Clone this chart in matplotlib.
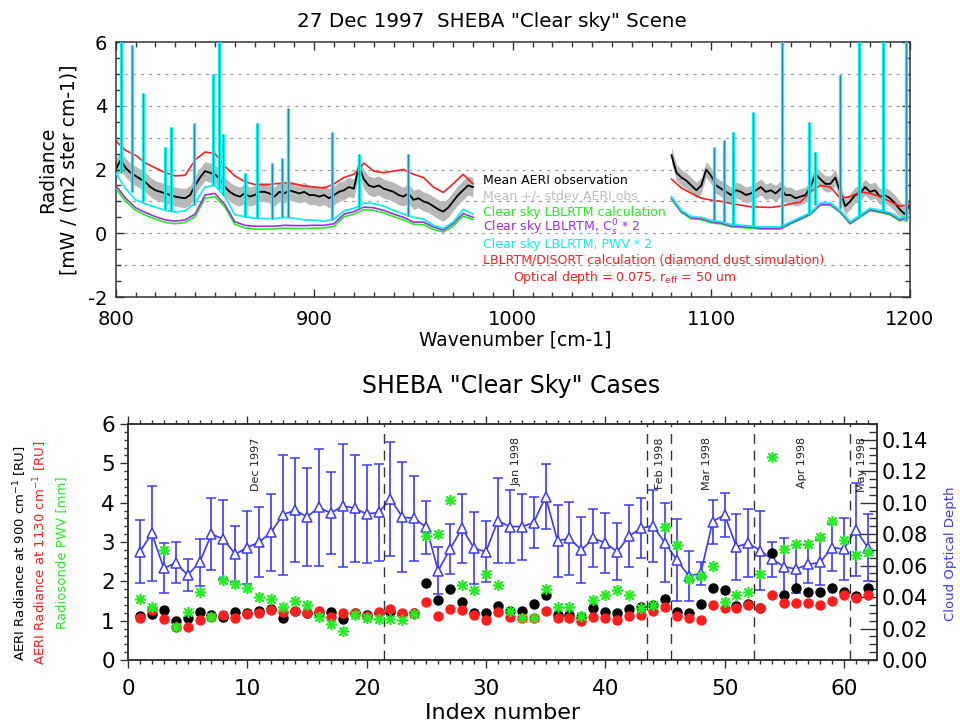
"""Two-panel SHEBA clear-sky figure: spectrum (top) and case summary (bottom)."""

import numpy as np
import matplotlib
matplotlib.use("Agg")
import matplotlib.pyplot as plt
from matplotlib.ticker import MultipleLocator, FormatStrFormatter

plt.rcParams.update({"font.family": "DejaVu Sans", "axes.linewidth": 1.1,
                     "axes.unicode_minus": False})

# Colours
BLACK = "#000000"
GRAY = "#b8b8b8"
GREEN = "#22ee22"
PURPLE = "#9a30e0"
CYAN = "#10eeee"
RED = "#ff1e1e"
BLUE = "#3a3aff"

# ---------------- top panel data (radiance, RU) ----------------
WN_CALC_A = np.arange(800, 981, 5)
WN_CALC_B = np.arange(1080, 1201, 5)
WN_OBS_A = np.arange(800, 980.1, 2.5)
WN_OBS_B = np.arange(1080, 1200.1, 2.5)

obs_mean_a = [2.0, 2.3, 2.05, 1.9, 1.8, 1.7, 1.6, 1.45,
              1.35, 1.3, 1.25, 1.2, 1.15, 1.12, 1.1, 1.2,
              1.5, 1.75, 1.95, 1.9, 1.85, 1.7, 1.45, 1.3,
              1.2, 1.15, 1.25, 1.15, 1.2, 1.3, 1.3, 1.25,
              1.15, 1.3, 1.25, 1.35, 1.3, 1.25, 1.3, 1.2,
              1.2, 1.15, 1.2, 1.1, 1.2, 1.3, 1.35, 1.45,
              1.4, 2.1, 1.7, 1.5, 1.45, 1.5, 1.4, 1.35,
              1.3, 1.2, 1.15, 1.25, 1.05, 1.1, 1.0, 0.95,
              0.85, 0.75, 0.68, 0.8, 1.0, 1.2, 1.35, 1.5,
              1.45]
obs_mean_b = [2.45, 1.9, 1.75, 1.65, 1.5, 1.35, 1.5, 2.0,
              1.8, 1.5, 1.4, 1.3, 1.2, 1.35, 1.3, 1.2,
              1.25, 1.35, 1.45, 1.3, 1.35, 1.25, 1.4, 1.2,
              1.2, 1.1, 1.15, 1.2, 1.45, 1.85, 1.7, 1.55,
              1.55, 1.75, 1.3, 0.85, 1.0, 1.2, 1.25, 1.45,
              1.3, 1.35, 1.15, 1.2, 1.1, 0.95, 0.75, 0.6,
              0.9]
obs_sd_a = 0.3
obs_sd_b = 0.25

clear_a = [1.4, 1.0, 0.72, 0.57, 0.44, 0.34, 0.3, 0.34, 0.52, 1.1, 1.15, 0.82,
           0.28, 0.17, 0.13, 0.13, 0.14, 0.16, 0.15, 0.15, 0.16, 0.17, 0.22, 0.52,
           0.6, 0.74, 0.72, 0.64, 0.52, 0.42, 0.28, 0.27, 0.12, 0.04, 0.22, 0.54, 0.43]
clear_b = [1.07, 0.65, 0.45, 0.43, 0.33, 0.29, 0.2, 0.18, 0.16, 0.13, 0.13, 0.13,
           0.29, 0.43, 0.58, 0.88, 0.88, 0.65, 0.29, 0.5, 0.71, 0.65, 0.58, 0.39, 0.5]
cs0_a = [1.5, 1.1, 0.8, 0.65, 0.52, 0.42, 0.38, 0.42, 0.6, 1.2, 1.25, 0.9,
         0.36, 0.25, 0.22, 0.22, 0.22, 0.25, 0.24, 0.24, 0.25, 0.25, 0.3, 0.6,
         0.68, 0.82, 0.8, 0.72, 0.6, 0.5, 0.35, 0.35, 0.2, 0.1, 0.3, 0.62, 0.5]
cs0_b = [1.1, 0.68, 0.48, 0.46, 0.36, 0.32, 0.23, 0.21, 0.19, 0.16, 0.16, 0.16,
         0.32, 0.46, 0.61, 0.91, 0.91, 0.68, 0.32, 0.53, 0.74, 0.68, 0.61, 0.42, 0.53]
pwv_a = [1.9, 1.4, 1.05, 0.92, 0.82, 0.72, 0.67, 0.7, 0.95, 1.45, 1.5, 1.15,
         0.58, 0.52, 0.47, 0.46, 0.46, 0.5, 0.47, 0.42, 0.41, 0.38, 0.45, 0.7,
         0.78, 0.95, 0.93, 0.85, 0.72, 0.6, 0.5, 0.45, 0.25, 0.15, 0.35, 0.75, 0.6]
pwv_b = [1.15, 0.72, 0.52, 0.5, 0.4, 0.36, 0.27, 0.25, 0.23, 0.2, 0.2, 0.2,
         0.36, 0.5, 0.65, 0.95, 0.95, 0.72, 0.36, 0.57, 0.78, 0.72, 0.65, 0.46, 0.57]
disort_a = [2.9, 2.6, 2.45, 2.2, 2.05, 1.9, 1.8, 1.82, 2.3, 2.55, 2.5, 2.1,
            1.8, 1.62, 1.53, 1.52, 1.55, 1.58, 1.55, 1.48, 1.45, 1.42, 1.55, 1.75,
            1.85, 2.2, 1.95, 1.9, 1.95, 2.0, 1.85, 1.75, 1.45, 1.28, 1.55, 1.85, 1.55]
disort_b = [1.7, 1.42, 1.25, 1.1, 1.04, 1.0, 0.93, 0.88, 0.83, 0.82, 0.81, 0.85,
            0.92, 0.98, 1.3, 1.5, 1.45, 1.1, 1.15, 1.3, 1.25, 1.15, 1.0, 0.85, 0.9]

# narrow emission lines (wavenumber, base, peak)
spike_wn = [802.5, 808.0, 813.9, 825.0, 827.7, 839.7, 849.0, 852.3, 854.0, 865.2,
            871.1, 879.0, 883.8, 886.8, 908.8, 922.5, 947.5,
            1101.4, 1106.6, 1111.2, 1121.2, 1135.8, 1149.4, 1152.2, 1165.1,
            1174.6, 1186.8, 1198.3]
spike_base = [1.9, 1.3, 1.0, 0.75, 0.7, 0.9, 1.5, 1.4, 1.2, 0.5,
              0.47, 0.46, 0.5, 0.5, 0.42, 0.8, 0.55,
              0.42, 0.35, 0.3, 0.22, 0.22, 0.6, 0.9, 0.8,
              0.5, 0.7, 0.4]
spike_top = [6.5, 5.9, 4.4, 2.7, 3.33, 3.45, 5.0, 6.5, 3.1, 1.9,
             3.45, 2.2, 2.35, 3.93, 3.19, 2.5, 2.5,
             2.72, 2.93, 3.19, 3.82, 6.5, 3.5, 2.56, 4.98,
             6.5, 6.5, 6.5]

# ---------------- bottom panel data ----------------
case_index = np.arange(1, 63)
aeri_900 = [1.12, 1.16, 1.27, 1.0, 1.06, 1.21, 1.14, 1.1, 1.22, 1.19,
            1.25, 1.3, 1.06, 1.24, 1.19, 1.2, 1.23, 1.03, 1.19, 1.14,
            1.2, 1.23, 1.17, 1.2, 1.97, 1.53, 1.8, 1.48, 1.2, 1.2,
            1.37, 1.25, 1.25, 1.42, 1.65, 1.14, 1.14, 1.1, 1.31, 1.21,
            1.19, 1.29, 1.36, 1.4, 1.54, 1.23, 1.2, 1.42, 1.84, 1.78,
            1.37, 1.42, 1.33, 2.71, 1.65, 1.82, 1.72, 1.72, 1.82, 1.74,
            1.62, 1.84]
aeri_1130 = [1.06, 1.27, 1.03, 0.83, 0.85, 1.02, 1.1, 1.14, 1.08, 1.17,
             1.19, 1.27, 1.23, 1.25, 1.19, 1.25, 1.1, 1.2, 1.2, 1.12,
             1.23, 1.29, 1.2, 1.19, 1.48, 1.12, 1.3, 1.27, 1.15, 1.02,
             1.21, 1.1, 1.08, 1.06, 1.25, 1.06, 1.06, 1.0, 1.1, 1.06,
             1.02, 1.13, 1.14, 1.25, 1.36, 1.13, 1.08, 1.02, 1.4, 1.33,
             1.33, 1.4, 1.33, 1.64, 1.44, 1.44, 1.44, 1.4, 1.51, 1.64,
             1.57, 1.65]
pwv_mm = [1.55, 1.36, 2.8, 0.85, 1.23, 1.72, 1.1, 2.03, 1.92, 1.84,
          1.61, 1.55, 1.36, 1.5, 1.4, 1.1, 0.91, 0.75, 1.14, 1.08,
          1.03, 1.03, 1.02, 1.16, 3.14, 3.2, 4.07, 1.91, 1.78, 2.18,
          1.91, 1.25, 1.08, 1.06, 1.8, 1.36, 1.36, 1.12, 1.53, 1.64,
          1.78, 1.64, 1.31, 1.4, 3.39, 2.92, 2.05, 2.14, 2.39, 1.47,
          1.64, 1.74, 2.19, 5.15, 2.81, 2.95, 2.95, 3.12, 3.54, 3.05,
          2.67, 2.74]
cloud_tau = [0.0688, 0.0805, 0.0583, 0.0618, 0.054, 0.062, 0.08, 0.0768, 0.0673, 0.0715,
             0.075, 0.0813, 0.0923, 0.0953, 0.091, 0.097, 0.0933, 0.098, 0.0965, 0.0928,
             0.0938, 0.1023, 0.0908, 0.09, 0.0843, 0.0568, 0.0705, 0.0838, 0.071, 0.0688,
             0.0885, 0.0848, 0.0848, 0.0873, 0.1038, 0.0758, 0.0773, 0.07, 0.0773, 0.0745,
             0.0688, 0.0788, 0.0838, 0.0853, 0.0745, 0.0635, 0.0535, 0.055, 0.088, 0.0923,
             0.072, 0.0743, 0.0695, 0.064, 0.0593, 0.0578, 0.0608, 0.062, 0.0715, 0.0705,
             0.0828, 0.0715]
cloud_tau_err = [0.020, 0.030, 0.016, 0.013, 0.010, 0.015, 0.023, 0.025, 0.018, 0.023,
                 0.022, 0.0245, 0.038, 0.033, 0.031, 0.037, 0.026, 0.039, 0.034, 0.031,
                 0.031, 0.036, 0.035, 0.027, 0.017, 0.015, 0.016, 0.022, 0.023, 0.0195,
                 0.027, 0.023, 0.021, 0.016, 0.0205, 0.023, 0.023, 0.021, 0.0185, 0.019,
                 0.018, 0.020, 0.019, 0.023, 0.025, 0.026, 0.016, 0.0075, 0.014, 0.014,
                 0.021, 0.0215, 0.025, 0.011, 0.0185, 0.015, 0.012, 0.0145, 0.015, 0.0195,
                 0.0295, 0.021]
month_bounds = [21.5, 43.5, 45.5, 52.5, 60.5]
month_labels = ["Dec 1997", "Jan 1998", "Feb 1998", "Mar 1998", "Apr 1998", "May 1998"]
month_pos = [10.7, 32.6, 44.6, 48.5, 56.5, 61.5]

fig = plt.figure(figsize=(9.6, 7.26), dpi=100, facecolor="white")

# ================= top panel =================
ax1 = fig.add_axes([0.1205, 0.5909, 0.8271, 0.3512])
ax1.set_xlim(800, 1200)
ax1.set_ylim(-2, 6)
for lev in [-1, 0, 1, 2, 3, 4, 5]:
    ax1.axhline(lev, color="#a0a0a0", lw=0.9, ls=(0, (2.5, 4)), zorder=0)

for wn, mean, sd in [(WN_OBS_A, obs_mean_a, obs_sd_a), (WN_OBS_B, obs_mean_b, obs_sd_b)]:
    m = np.array(mean)
    ax1.fill_between(wn, m - sd, m + sd, color=GRAY, lw=0, zorder=1)
    ax1.plot(wn, m, color=BLACK, lw=1.3, zorder=2)

for wn, g, p, c, r in [(WN_CALC_A, clear_a, cs0_a, pwv_a, disort_a),
                       (WN_CALC_B, clear_b, cs0_b, pwv_b, disort_b)]:
    ax1.plot(wn, g, color=GREEN, lw=1.2, zorder=3)
    ax1.plot(wn, p, color=PURPLE, lw=1.2, zorder=3)
    ax1.plot(wn, r, color=RED, lw=1.2, zorder=3)
    ax1.plot(wn, c, color=CYAN, lw=1.3, zorder=4)

ax1.vlines(spike_wn, spike_base, spike_top, color=CYAN, lw=2.4, zorder=5)
ax1.vlines(spike_wn, spike_base, spike_top, color="#2a86b8", lw=0.7, zorder=6)

ax1.xaxis.set_major_locator(MultipleLocator(100))
ax1.xaxis.set_minor_locator(MultipleLocator(10))
ax1.yaxis.set_major_locator(MultipleLocator(2))
ax1.yaxis.set_minor_locator(MultipleLocator(0.5))
ax1.tick_params(which="both", direction="in", top=True, right=True, labelsize=14,
                color="#333333")
ax1.tick_params(which="major", length=6, width=1)
ax1.tick_params(which="minor", length=3.5, width=1)
ax1.tick_params(axis="x", pad=9)
ax1.tick_params(axis="y", pad=6)
for s in ax1.spines.values():
    s.set_color("#333333")

legend_lines = [
    ("Mean AERI observation", BLACK, 985, 1.65),
    ("Mean +/- stdev AERI obs", "#bdbdbd", 985, 1.17),
    ("Clear sky LBLRTM calculation", GREEN, 985, 0.66),
    ("Clear sky LBLRTM, C$_s^0$ * 2", PURPLE, 985, 0.16),
    ("Clear sky LBLRTM, PWV * 2", CYAN, 985, -0.35),
    ("LBLRTM/DISORT calculation (diamond dust simulation)", RED, 985, -0.85),
    ("Optical depth = 0.075, r$_{\\mathrm{eff}}$ = 50 um", RED, 1000, -1.38),
]
for txt, col, x, y in legend_lines:
    ax1.text(x, y, txt, color=col, fontsize=9, ha="left", va="center", zorder=7)

fig.text(0.512, 0.9697, '27 Dec 1997  SHEBA "Clear sky" Scene', fontsize=14.3,
         ha="center", va="center")
fig.text(0.5365, 0.5317, "Wavenumber [cm-1]", fontsize=13.5, ha="center", va="center")
fig.text(0.050, 0.7665, "Radiance", fontsize=13.5, rotation=90, ha="center", va="center")
fig.text(0.072, 0.7665, "[mW / (m2 ster cm-1)]", fontsize=13.5, rotation=90,
         ha="center", va="center")

# ================= bottom panel =================
ax2 = fig.add_axes([0.1333, 0.0909, 0.7799, 0.3251])
ax3 = ax2.twinx()
ax2.set_zorder(ax3.get_zorder() + 1)
ax2.patch.set_visible(False)

ax2.set_xlim(0, 62.75)
ax2.set_ylim(0, 6)
ax3.set_ylim(0, 0.15)

ax3.errorbar(case_index, cloud_tau, yerr=cloud_tau_err, color=BLUE, lw=1.2,
             elinewidth=1.2, capsize=3.5, capthick=1.1, marker="^", ms=7,
             mfc="white", mec=BLUE, mew=1.1)

for xb in month_bounds:
    ax2.axvline(xb, color="#333333", lw=1.0, ls=(0, (7, 5)), zorder=1)

ax2.plot(case_index, aeri_900, "o", color=BLACK, ms=6.5, zorder=3)
ax2.plot(case_index, aeri_1130, "o", color=RED, ms=6.5, zorder=4)
ax2.plot(case_index, pwv_mm, ls="none", marker=(8, 2, 0), color=GREEN, ms=8,
         mew=1.2, zorder=5)

for lab, xp in zip(month_labels, month_pos):
    ax2.text(xp, 5.66, lab, rotation=90, fontsize=8, ha="center", va="top",
             color="#222222", zorder=6)

ax2.xaxis.set_major_locator(MultipleLocator(10))
ax2.xaxis.set_minor_locator(MultipleLocator(1))
ax2.yaxis.set_major_locator(MultipleLocator(1))
ax2.yaxis.set_minor_locator(MultipleLocator(0.2))
ax2.tick_params(which="both", direction="out", top=True, right=False, color="#333333")
ax2.tick_params(axis="x", labelsize=15.5, pad=8)
ax2.tick_params(axis="y", labelsize=15.5)
ax2.tick_params(which="major", length=6, width=1)
ax2.tick_params(which="minor", length=3, width=1)

ax3.yaxis.set_major_locator(MultipleLocator(0.02))
ax3.yaxis.set_minor_locator(MultipleLocator(0.005))
ax3.yaxis.set_major_formatter(FormatStrFormatter("%.2f"))
ax3.tick_params(which="both", direction="in", labelsize=15, color="#333333")
ax3.tick_params(which="major", length=12, width=1)
ax3.tick_params(which="minor", length=6, width=1)
for a in (ax2, ax3):
    for s in a.spines.values():
        s.set_color("#333333")

fig.text(0.532, 0.468, 'SHEBA "Clear Sky" Cases', fontsize=17, ha="center", va="center")
fig.text(0.523, 0.018, "Index number", fontsize=16, ha="center", va="center")
fig.text(0.0208, 0.2383, "AERI Radiance at 900 cm$^{-1}$ [RU]", color=BLACK,
         fontsize=9.5, rotation=90, ha="center", va="center")
fig.text(0.0417, 0.2383, "AERI Radiance at 1130 cm$^{-1}$ [RU]", color=RED,
         fontsize=9.5, rotation=90, ha="center", va="center")
fig.text(0.0646, 0.2383, "Radiosonde PWV [mm]", color=GREEN,
         fontsize=9.5, rotation=90, ha="center", va="center")
fig.text(0.9906, 0.237, "Cloud Optical Depth", color=BLUE,
         fontsize=9.5, rotation=90, ha="center", va="center")

fig.savefig("out.png", dpi=100, facecolor="white")
